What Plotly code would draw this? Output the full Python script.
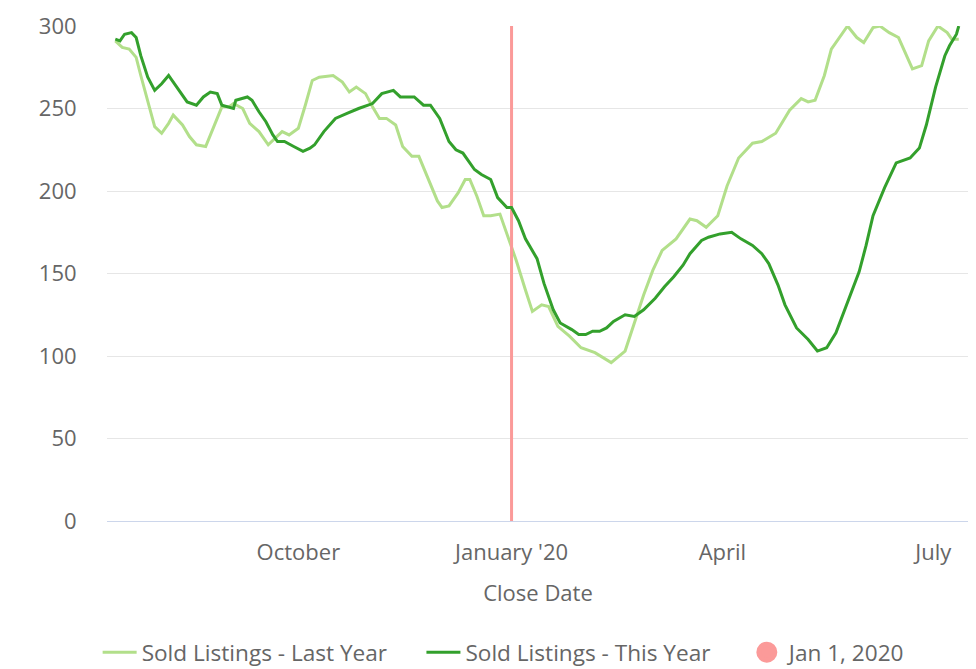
import plotly.graph_objects as go

# Sold listings, this year (Jul 2019 - Jul 2020)
this_year_dates = [
    "2019-07-14", "2019-07-16", "2019-07-18", "2019-07-21", "2019-07-23", "2019-07-25",
    "2019-07-28", "2019-07-31", "2019-08-03", "2019-08-06", "2019-08-09", "2019-08-12",
    "2019-08-14", "2019-08-18", "2019-08-21", "2019-08-24", "2019-08-27", "2019-08-29",
    "2019-09-01", "2019-09-03", "2019-09-04", "2019-09-09", "2019-09-11", "2019-09-14",
    "2019-09-17", "2019-09-20", "2019-09-22", "2019-09-25", "2019-09-29", "2019-10-03",
    "2019-10-06", "2019-10-08", "2019-10-12", "2019-10-17", "2019-10-22", "2019-10-27",
    "2019-11-02", "2019-11-06", "2019-11-11", "2019-11-14", "2019-11-20", "2019-11-24",
    "2019-11-27", "2019-12-01", "2019-12-05", "2019-12-08", "2019-12-11", "2019-12-16",
    "2019-12-19", "2019-12-23", "2019-12-26", "2019-12-30", "2020-01-01", "2020-01-04",
    "2020-01-07", "2020-01-12", "2020-01-15", "2020-01-19", "2020-01-22", "2020-01-27",
    "2020-01-30", "2020-02-02", "2020-02-05", "2020-02-08", "2020-02-11", "2020-02-14",
    "2020-02-19", "2020-02-23", "2020-02-27", "2020-03-03", "2020-03-07", "2020-03-11",
    "2020-03-15", "2020-03-18", "2020-03-23", "2020-03-26", "2020-03-31", "2020-04-05",
    "2020-04-09", "2020-04-14", "2020-04-18", "2020-04-21", "2020-04-25", "2020-04-28",
    "2020-05-03", "2020-05-08", "2020-05-12", "2020-05-16", "2020-05-20", "2020-05-24",
    "2020-05-27", "2020-05-30", "2020-06-02", "2020-06-05", "2020-06-10", "2020-06-15",
    "2020-06-21", "2020-06-25", "2020-06-28", "2020-07-02", "2020-07-06", "2020-07-08",
    "2020-07-11", "2020-07-12",
]
this_year_sold = [
    292, 291, 295, 296, 293, 282,
    269, 261, 265, 270, 264, 258,
    254, 252, 257, 260, 259, 252,
    251, 250, 255, 257, 255, 248,
    242, 234, 230, 230, 227, 224,
    226, 228, 236, 244, 247, 250,
    253, 259, 261, 257, 257, 252,
    252, 244, 230, 225, 223, 213,
    210, 207, 196, 190, 190, 182,
    171, 159, 144, 128, 120, 116,
    113, 113, 115, 115, 117, 121,
    125, 124, 128, 135, 142, 148,
    155, 162, 170, 172, 174, 175,
    171, 167, 162, 156, 143, 131,
    117, 110, 103, 105, 114, 129,
    141, 151, 167, 185, 202, 217,
    220, 226, 240, 263, 282, 288,
    295, 300,
]

# Sold listings, last year (shifted onto this year's dates)
last_year_dates = [
    "2019-07-14", "2019-07-17", "2019-07-20", "2019-07-23", "2019-07-25", "2019-07-28",
    "2019-07-31", "2019-08-03", "2019-08-06", "2019-08-08", "2019-08-12", "2019-08-15",
    "2019-08-18", "2019-08-22", "2019-08-25", "2019-08-29", "2019-09-01", "2019-09-03",
    "2019-09-07", "2019-09-10", "2019-09-14", "2019-09-18", "2019-09-21", "2019-09-24",
    "2019-09-27", "2019-10-01", "2019-10-04", "2019-10-07", "2019-10-10", "2019-10-16",
    "2019-10-20", "2019-10-23", "2019-10-26", "2019-10-30", "2019-11-02", "2019-11-05",
    "2019-11-08", "2019-11-12", "2019-11-15", "2019-11-19", "2019-11-22", "2019-11-26",
    "2019-11-30", "2019-12-02", "2019-12-05", "2019-12-09", "2019-12-12", "2019-12-14",
    "2019-12-17", "2019-12-20", "2019-12-23", "2019-12-27", "2019-12-30", "2020-01-01",
    "2020-01-03", "2020-01-07", "2020-01-10", "2020-01-14", "2020-01-17", "2020-01-21",
    "2020-01-26", "2020-01-31", "2020-02-06", "2020-02-13", "2020-02-19", "2020-02-23",
    "2020-02-27", "2020-03-02", "2020-03-06", "2020-03-12", "2020-03-18", "2020-03-21",
    "2020-03-25", "2020-03-30", "2020-04-03", "2020-04-08", "2020-04-14", "2020-04-18",
    "2020-04-24", "2020-04-30", "2020-05-05", "2020-05-08", "2020-05-11", "2020-05-15",
    "2020-05-18", "2020-05-25", "2020-05-29", "2020-06-01", "2020-06-05", "2020-06-08",
    "2020-06-12", "2020-06-16", "2020-06-19", "2020-06-22", "2020-06-26", "2020-06-29",
    "2020-07-03", "2020-07-07", "2020-07-09", "2020-07-12",
]
last_year_sold = [
    291, 287, 286, 281, 270, 254,
    239, 235, 241, 246, 240, 233,
    228, 227, 237, 251, 251, 253,
    250, 241, 236, 228, 232, 236,
    234, 238, 252, 267, 269, 270,
    266, 260, 263, 259, 251, 244,
    244, 240, 227, 221, 221, 207,
    194, 190, 191, 199, 207, 207,
    197, 185, 185, 186, 174, 166,
    158, 140, 127, 131, 130, 118,
    112, 105, 102, 96, 103, 120,
    137, 152, 164, 171, 183, 182,
    178, 185, 203, 220, 229, 230,
    235, 249, 256, 254, 255, 270,
    286, 300, 293, 290, 299, 300,
    296, 293, 284, 274, 276, 291,
    300, 296, 292, 292,
]

marker_date = "2020-01-01"
marker_span = [0, 300]
marker_name = "Jan 1, 2020"

tick_dates = ["2019-10-01", "2020-01-01", "2020-04-01", "2020-07-01"]
tick_labels = ["October", "January '20", "April", "July"]
y_ticks = [0, 50, 100, 150, 200, 250, 300]

LIGHT = "#b2df8a"
DARK = "#33a02c"
PINK = "#fb9a99"
TEXT = "#666666"
FONT = "Open Sans"
FS = 22
LEGEND_FS = 22.6
GAP = "\u00a0" * 5  # extra room between legend entries

fig = go.Figure()
fig.add_trace(go.Scatter(
    x=last_year_dates, y=last_year_sold, mode="lines",
    name="Sold Listings - Last Year" + GAP, line=dict(color=LIGHT, width=3),
))
fig.add_trace(go.Scatter(
    x=[marker_date, marker_date], y=marker_span, mode="lines",
    line=dict(color=PINK, width=3), showlegend=False, hoverinfo="skip",
))
fig.add_trace(go.Scatter(
    x=this_year_dates, y=this_year_sold, mode="lines",
    name="Sold Listings - This Year" + GAP, line=dict(color=DARK, width=3),
))
# legend entry for the Jan 1 marker line
fig.add_trace(go.Scatter(
    x=[None], y=[None], mode="markers", name=marker_name,
    marker=dict(color=PINK, size=22, symbol="circle", line=dict(color=PINK, width=5)),
))

# page body adds an 8px offset, so the figure is 8px smaller than the window
fig.update_layout(
    width=968, height=661,
    margin=dict(l=99, r=7, t=18, b=148),
    paper_bgcolor="white", plot_bgcolor="white",
    font=dict(family=FONT, size=FS, color=TEXT),
    showlegend=True,
    legend=dict(
        orientation="h", xref="container", x=0.0926, xanchor="left",
        yref="container", y=0.0575, yanchor="top",
        font=dict(size=LEGEND_FS, color=TEXT),
        itemsizing="trace", itemwidth=34, traceorder="normal",
    ),
)
fig.update_xaxes(
    type="date", range=["2019-07-10 10:00", "2020-07-16 10:00"],
    tickvals=tick_dates, ticktext=tick_labels,
    showgrid=False, zeroline=False, automargin=False,
    showline=True, linecolor="#ccd6eb", linewidth=1,
    ticks="outside", ticklen=12, tickcolor="rgba(0,0,0,0)",
    tickfont=dict(size=FS, color=TEXT),
    title=dict(text="Close Date", font=dict(size=FS, color=TEXT), standoff=20),
)
fig.update_yaxes(
    range=[0, 300], tickvals=y_ticks, automargin=False,
    showgrid=True, gridcolor="#e6e6e6", gridwidth=1, zeroline=False,
    ticks="outside", ticklen=25, tickcolor="rgba(0,0,0,0)",
    tickfont=dict(size=FS, color=TEXT),
)

fig.write_html("out.html")
